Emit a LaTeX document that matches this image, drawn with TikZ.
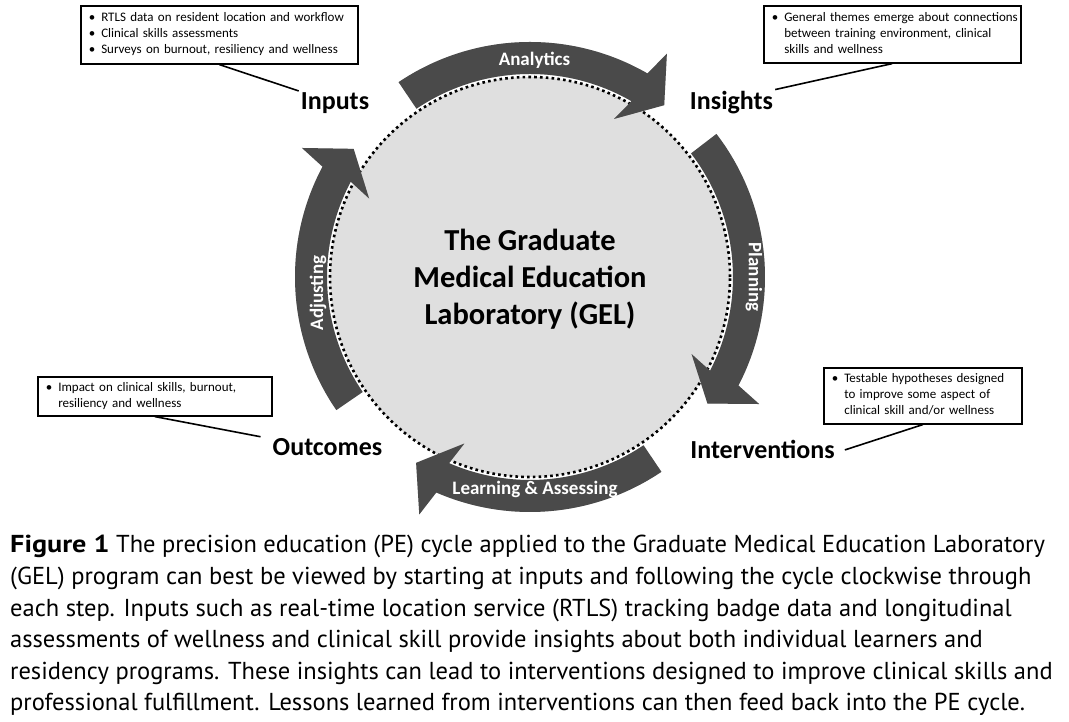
\documentclass[tikz,border=0pt]{standalone}
\usepackage{fontspec}
\setmainfont{Carlito}
\newfontfamily\capfont{PT Sans}
\usetikzlibrary{calc}
\definecolor{arrowgray}{HTML}{4A4A4A}
\definecolor{circgray}{HTML}{DFDFDF}
\newcommand{\cycarrowpath}[2]{%
  ($(C)+(#1:235pt)$) arc[start angle=#1, end angle=#2, radius=235pt]
    -- ($(C)+({#2-1.5}:262pt)$) -- ($(C)+({#2-8}:218pt)$) -- ($(C)+({#2+2}:179pt)$)
    -- ($(C)+(#2:203pt)$) arc[start angle=#2, end angle=#1, radius=203pt] -- cycle}
\newcommand{\cycarrow}[2]{%
  \fill[black, opacity=0.18, shift={(1.5pt,-1.5pt)}] \cycarrowpath{#1}{#2};
  \fill[arrowgray] \cycarrowpath{#1}{#2};}
\begin{document}
\begin{tikzpicture}[x=1pt,y=1pt,
  boxnode/.style={draw=black, line width=1.6pt, inner xsep=8pt, inner ysep=2pt, anchor=north west, align=left, font=\fontsize{13}{16}\selectfont},
  stagelabel/.style={font=\fontsize{26}{30}\selectfont\bfseries, inner sep=2pt, anchor=base},
  arrowlabel/.style={text=white, font=\fontsize{19}{22}\selectfont\bfseries, inner sep=1pt},
  titlenode/.style={font=\fontsize{30.5}{37}\selectfont\bfseries, align=center},
  leader/.style={line width=1.6pt},
  capline/.style={anchor=base west, inner sep=0pt, font=\capfont\fontsize{24.5}{30}\selectfont}]
\useasboundingbox (0,0) rectangle (1069,722);
\coordinate (C) at (530,445);
% central circle
\fill[circgray] (C) circle[radius=200pt];
\draw[line width=2.6pt, dash pattern=on 2.6pt off 3.2pt] (C) circle[radius=200pt];
% cycle arrows
\cycarrow{124}{60}
\cycarrow{37.5}{-27.5}
\cycarrow{-56}{-113.5}
\cycarrow{214.5}{152}
\node[arrowlabel] (lanalytics) at (534.5,662) {Analytics};
\node[arrowlabel, rotate=-90] (lplanning) at (754,445) {Planning};
\node[arrowlabel] (llearning) at (535,233) {Learning \& Assessing};
\node[arrowlabel, rotate=90] (ladjusting) at (318,429) {Adjusting};
% title
\node[titlenode] (title) at (530,443) {The Graduate\\Medical Education\\Laboratory (GEL)};
% stage labels
\node[stagelabel] (inputs) at (335,612) {Inputs};
\node[stagelabel] (insights) at (731.5,612) {Insights};
\node[stagelabel] (outcomes) at (327.5,266) {Outcomes};
\node[stagelabel] (interventions) at (762.5,263) {Interventions};
% boxes
\node[boxnode, minimum width=277pt, minimum height=58pt, text width=261pt] (b1) at (80,717) {%
\begin{tabular}{@{}l@{\hspace{6pt}}l@{}}\textbullet & RTLS data on resident location and workflow\\ \textbullet & Clinical skills assessments\\ \textbullet & Surveys on burnout, resiliency and wellness\end{tabular}};
\node[boxnode, minimum width=257pt, minimum height=57pt, text width=241pt] (b2) at (763,717) {%
\begin{tabular}{@{}l@{\hspace{6pt}}l@{}}\textbullet & General themes emerge about connections\\ & between training environment, clinical\\ & skills and wellness\end{tabular}};
\node[boxnode, minimum width=234pt, minimum height=39pt, text width=218pt] (b3) at (37,346) {%
\begin{tabular}{@{}l@{\hspace{6pt}}l@{}}\textbullet & Impact on clinical skills, burnout,\\ & resiliency and wellness\end{tabular}};
\node[boxnode, minimum width=198pt, minimum height=56pt, text width=182pt] (b4) at (823,355) {%
\begin{tabular}{@{}l@{\hspace{6pt}}l@{}}\textbullet & Testable hypotheses designed\\ & to improve some aspect of\\ & clinical skill and/or wellness\end{tabular}};
% leaders
\draw[leader] (b1.south) -- (inputs.north west);
\draw[leader] (b2.south) -- (insights.north east);
\draw[leader] (b3.south) -- ([xshift=-10pt]outcomes.north west);
\draw[leader] (b4.south) -- ([xshift=8pt]interventions.east);
% caption
\node[capline] (cap1) at (10,169) {\scalebox{1.15}[1]{\textbf{Figure 1}} The precision education (PE) cycle applied to the Graduate Medical Education Laboratory};
\node[capline] (cap2) at (10,137) {(GEL) program can best be viewed by starting at inputs and following the cycle clockwise through};
\node[capline] (cap3) at (10,105) {each step. Inputs such as real-time location service (RTLS) tracking badge data and longitudinal};
\node[capline] (cap4) at (10,74) {assessments of wellness and clinical skill provide insights about both individual learners and};
\node[capline] (cap5) at (10,42) {residency programs. These insights can lead to interventions designed to improve clinical skills and};
\node[capline] (cap6) at (10,11) {professional fulfillment. Lessons learned from interventions can then feed back into the PE cycle.};
\end{tikzpicture}
\end{document}
